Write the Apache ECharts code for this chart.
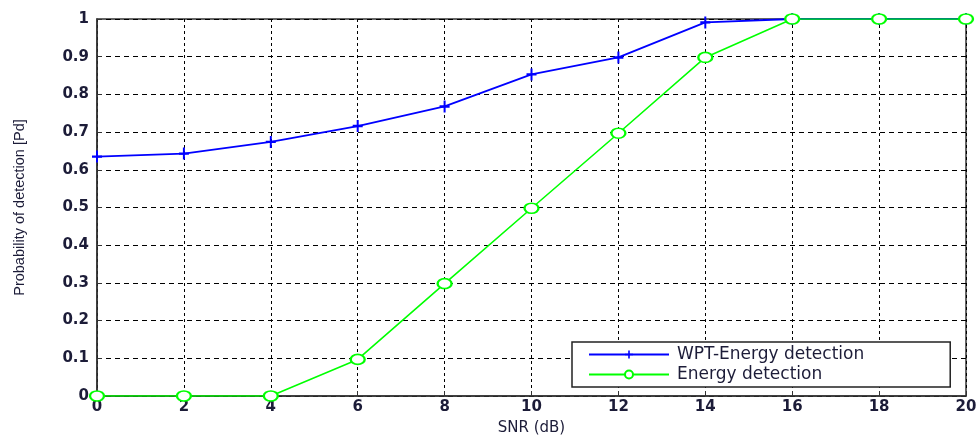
<!DOCTYPE html>
<html><head><meta charset="utf-8">
<script src="https://cdn.jsdelivr.net/npm/echarts@6/dist/echarts.min.js"></script>
<style>html,body{margin:0;padding:0;background:#fff}#c{width:977px;height:437px}</style>
</head><body><div id="c"></div>
<script>
const snr = [0, 2, 4, 6, 8, 10, 12, 14, 16, 18, 20];
const wptEnergy = [0.635, 0.643, 0.674, 0.716, 0.768, 0.853, 0.898, 0.991, 1, 1, 1];
const energy = [0, 0, 0, 0.097, 0.298, 0.498, 0.697, 0.898, 1, 1, 1];
const yTicks = [0, 0.1, 0.2, 0.3, 0.4, 0.5, 0.6, 0.7, 0.8, 0.9, 1];

const plus = 'path://M4,0 H6 V4 H10 V6 H6 V10 H4 V6 H0 V4 H4 Z';
const chart = echarts.init(document.getElementById('c'));
const tickFont = {fontFamily: 'DejaVu Sans', fontSize: 15, fontWeight: 'bold', color: '#1c1c38'};
chart.setOption({
  animation: false,
  backgroundColor: '#fff',
  grid: {left: 97, right: 11, top: 19, bottom: 41, show: true, borderColor: '#333', borderWidth: 1.5,
         containLabel: false, outerBoundsMode: 'none'},
  xAxis: {
    type: 'value', min: 0, max: 20, interval: 2,
    name: 'SNR (dB)', nameLocation: 'middle', nameGap: 25,
    nameTextStyle: {fontFamily: 'DejaVu Sans', fontSize: 15, color: '#1c1c38'},
    axisLine: {lineStyle: {color: '#333', width: 1.5}},
    axisTick: {inside: true, length: 5, lineStyle: {color: '#333'}},
    axisLabel: Object.assign({margin: 4}, tickFont),
    splitLine: {show: true, lineStyle: {color: '#000', type: [3, 3], width: 1}}
  },
  yAxis: {
    type: 'value', min: 0, max: 1, interval: 0.1,
    name: 'Probability of detection [Pd]', nameLocation: 'middle', nameGap: 70,
    nameTextStyle: {fontFamily: 'Liberation Sans, Arial', fontSize: 14.5, color: '#1c1c38'},
    axisLine: {lineStyle: {color: '#333', width: 1.5}},
    axisTick: {inside: true, length: 5, lineStyle: {color: '#333'}},
    axisLabel: Object.assign({margin: 8, formatter: v => {
      const t = yTicks.find(x => Math.abs(x - v) < 1e-9);
      return t === undefined ? '' : String(t);
    }}, tickFont),
    splitLine: {show: true, lineStyle: {color: '#000', type: [5, 4], width: 1}}
  },
  legend: {
    orient: 'vertical', left: 572, top: 342,
    backgroundColor: '#fff', borderColor: '#222', borderWidth: 1.5,
    padding: [4, 86, 4, 16], itemGap: 3, itemWidth: 80, itemHeight: 10,
    textStyle: {fontFamily: 'DejaVu Sans', fontSize: 17, color: '#1c1c38', padding: [0, 0, 0, 3]},
    data: ['WPT-Energy detection', 'Energy detection']
  },
  series: [
    {
      name: 'WPT-Energy detection', type: 'line',
      data: snr.map((x, i) => [x, wptEnergy[i]]),
      symbol: plus, symbolSize: [10, 12],
      lineStyle: {color: '#0000ff', width: 1.8},
      itemStyle: {color: '#0000ff'}, z: 2
    },
    {
      name: 'Energy detection', type: 'line',
      data: snr.map((x, i) => [x, energy[i]]),
      symbol: 'emptyCircle', symbolSize: [14, 10],
      lineStyle: {color: '#00ff00', width: 1.6},
      itemStyle: {color: '#00ff00', borderWidth: 2}, z: 3
    }
  ]
});
</script></body></html>
